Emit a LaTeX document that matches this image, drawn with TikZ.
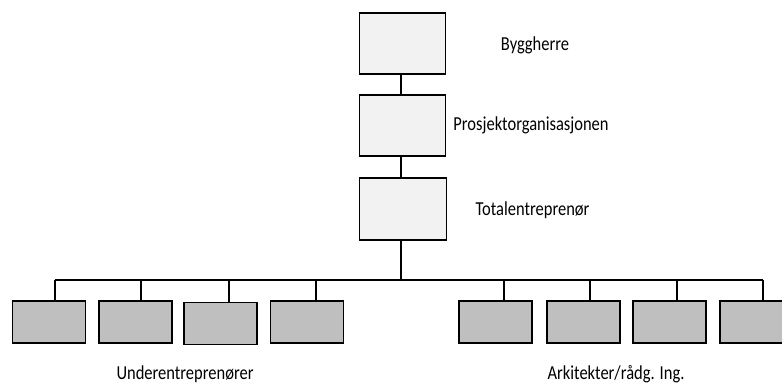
\documentclass[tikz,border=0pt]{standalone}
\usepackage{fontspec}
\setmainfont{Carlito}
\newcommand{\tallbox}[1]{\scalebox{1}[1.2]{#1}}
\begin{document}
\begin{tikzpicture}[x=1pt,y=-1pt,
  topbox/.style={draw=black,line width=1.6pt,fill=black!5,minimum width=86pt,minimum height=61pt,inner sep=0pt},
  subbox/.style={draw=black,line width=1.6pt,fill=black!25,minimum width=73pt,minimum height=42pt,inner sep=0pt},
  link/.style={draw=black,line width=1.4pt},
  lbl/.style={font=\fontsize{16.5}{18}\selectfont,inner sep=0pt,anchor=center}]
\useasboundingbox (0,0) rectangle (782,385);
% hierarchy of main parties
\node[topbox] (bh) at (402.5,43.5) {};
\node[topbox] (po) at (402.5,125.5) {};
\node[topbox,minimum width=87pt,minimum height=62pt] (te) at (403,209) {};
\node[lbl] (tbh) at (535,45) {\tallbox{Byggherre}};
\node[lbl] (tpo) at (531,125) {\tallbox{Prosjektorganisasjonen}};
\node[lbl] (tte) at (532.5,210) {\tallbox{Totalentreprenør}};
% subcontractors and consultants
\node[subbox] (u1) at (49,322) {};
\node[subbox] (u2) at (135.7,322) {};
\node[subbox] (u3) at (220.5,323.5) {};
\node[subbox] (u4) at (307,322) {};
\node[subbox] (a1) at (495.3,322) {};
\node[subbox] (a2) at (583.3,322) {};
\node[subbox] (a3) at (669.2,322) {};
\node[subbox] (a4) at (756.5,322) {};
\node[lbl] (tu) at (185,374) {\tallbox{Underentreprenører}};
\node[lbl] (ta) at (616,374) {\tallbox{Arkitekter/rådg. Ing.}};
% connectors
\coordinate (busL) at (55,280);
\coordinate (busR) at (763,280);
\coordinate (busM) at (401,280);
\draw[link] (bh.south -| busM) -- (po.north -| busM);
\draw[link] (po.south -| busM) -- (te.north -| busM);
\draw[link] (te.south -| busM) -- (busM);
\draw[link] (busL) -- (busR);
\foreach \n/\x in {u1/55,u2/141,u3/229,u4/316,a1/504,a2/590,a3/677,a4/763}{
  \coordinate (d-\n) at (\x,280);
  \draw[link] (d-\n) -- (d-\n |- \n.north);
}
\end{tikzpicture}
\end{document}
